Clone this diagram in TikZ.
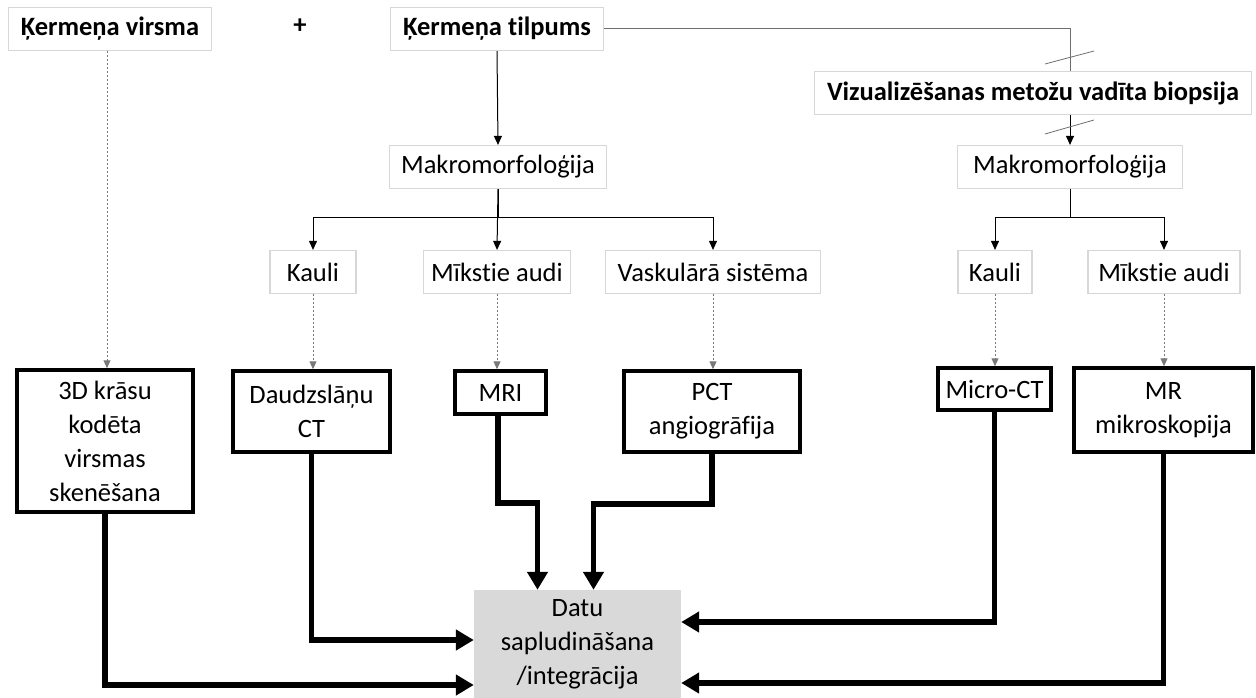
\documentclass[tikz,border=0pt]{standalone}
\usepackage{fontspec}
\setmainfont{Carlito}[Ligatures=NoCommon]
\usetikzlibrary{arrows.meta}
\definecolor{boxgray}{RGB}{215,215,215}
\definecolor{linegray}{RGB}{110,110,110}
\definecolor{dotgray}{RGB}{120,120,120}
\definecolor{datugray}{RGB}{217,217,217}
\newcommand{\txtsize}{\fontsize{26.5}{34}\selectfont}
\tikzset{
  lightbox/.style={draw=boxgray, line width=1.2pt, inner sep=0pt, align=center, font=\txtsize},
  boldbox/.style={lightbox, font=\txtsize\bfseries},
  methodbox/.style={draw=black, line width=3.5pt, inner sep=0pt, align=center, font=\txtsize},
  datubox/.style={fill=datugray, inner sep=0pt, align=center, font=\txtsize},
  thinarrow/.style={line width=1pt, -{Triangle[length=9pt,width=8pt]}},
  dotarrow/.style={draw=dotgray, line width=1pt, dash pattern=on 2pt off 2pt, -{Triangle[length=8pt,width=7pt]}},
  thickarrow/.style={line width=5.5pt, -{Triangle[length=18pt,width=20pt]}},
}
\begin{document}
\begin{tikzpicture}[x=1pt,y=1pt,yscale=-1]
\useasboundingbox (0,0) rectangle (1256,698);

% Text Node
\node[boldbox, minimum width=203pt, minimum height=43pt] (virsma) at (110,29) {Ķermeņa virsma};
\node[font=\txtsize\bfseries] (plus) at (300,26) {+};
\node[boldbox, minimum width=213pt, minimum height=43pt] (tilpums) at (497,29) {Ķermeņa tilpums};
\node[boldbox, minimum width=437pt, minimum height=43pt] (biopsija) at (1033,93) {Vizualizēšanas metožu vadīta biopsija};

% Text Node
\node[lightbox, minimum width=217pt, minimum height=43pt] (makroL) at (498,167) {Makromorfoloģija};
\node[lightbox, minimum width=225pt, minimum height=43pt] (makroR) at (1070,167) {Makromorfoloģija};

% Text Node
\node[lightbox, minimum width=86pt, minimum height=43pt] (kauliL) at (313,272) {Kauli};
\node[lightbox, minimum width=147pt, minimum height=43pt] (audiL) at (497,272) {Mīkstie audi};
\node[lightbox, minimum width=215pt, minimum height=43pt] (vask) at (713,272) {Vaskulārā sistēma};
\node[lightbox, minimum width=74pt, minimum height=43pt] (kauliR) at (995,272) {Kauli};
\node[lightbox, minimum width=152pt, minimum height=43pt] (audiR) at (1164,272) {Mīkstie audi};

% Text Node
\node[methodbox, minimum width=176pt, minimum height=142pt] (skan) at (105,441) {3D krāsu\\kodēta\\virsmas\\skenēšana};
\node[methodbox, minimum width=157pt, minimum height=81pt] (ct) at (311.5,411.5) {Daudzslāņu\\CT};
\node[methodbox, minimum width=91pt, minimum height=43pt] (mri) at (500.5,392.5) {MRI};
\node[methodbox, minimum width=176pt, minimum height=81pt] (pct) at (712,411.5) {PCT\\angiogrāfija};
\node[methodbox, minimum width=113pt, minimum height=42pt] (micro) at (994.5,389) {Micro-CT};
\node[methodbox, minimum width=179pt, minimum height=84pt] (mrmik) at (1163.5,410) {MR\\mikroskopija};

% Text Node
\node[datubox, minimum width=207pt, minimum height=108pt] (datu) at (577.5,644) {Datu\\sapludināšana\\/integrācija};

%Straight Lines
\draw[draw=linegray, line width=1pt] (tilpums.east) -| (biopsija.north -| makroR);
\draw[thinarrow] (biopsija.south -| makroR) -- (makroR.north);
% break marks
\draw[draw=linegray, line width=0.8pt] (1045,64) -- (1094,51);
\draw[draw=linegray, line width=0.8pt] (1045,134) -- (1094,120);

%Straight Lines
\draw[thinarrow] (tilpums.south) -- (makroL.north);
\draw[thinarrow] (makroL.south) -- ++(0,28) -| (kauliL.north);
\draw[thinarrow] (makroL.south) -- (audiL.north);
\draw[thinarrow] (makroL.south) -- ++(0,28) -| (vask.north);
\draw[thinarrow] (makroR.south) -- ++(0,28) -| (kauliR.north);
\draw[thinarrow] (makroR.south) -- ++(0,28) -| (audiR.north);

%Dotted Lines
\draw[dotarrow] (virsma.south -| 107,0) -- (107,0 |- skan.north);
\draw[dotarrow] (kauliL.south) -- (kauliL.south |- ct.north);
\draw[dotarrow] (audiL.south) -- (audiL.south |- mri.north);
\draw[dotarrow] (vask.south) -- (vask.south |- pct.north);
\draw[dotarrow] (kauliR.south) -- (kauliR.south |- micro.north);
\draw[dotarrow] (audiR.south) -- (audiR.south |- mrmik.north);

%Thick Lines
\draw[thickarrow] (mri.south -| 498,0) -- (498,503) -| ([xshift=-40pt]datu.north);
\draw[thickarrow] (pct.south) -- ++(0,50) -| ([xshift=16pt]datu.north);
\draw[thickarrow] (ct.south) |- ([yshift=-4pt]datu.west);
\draw[thickarrow] (skan.south) |- ([yshift=41pt]datu.west);
\draw[thickarrow] (micro.south) |- ([yshift=-22pt]datu.east);
\draw[thickarrow] (mrmik.south) |- ([yshift=39pt]datu.east);

\end{tikzpicture}
\end{document}
